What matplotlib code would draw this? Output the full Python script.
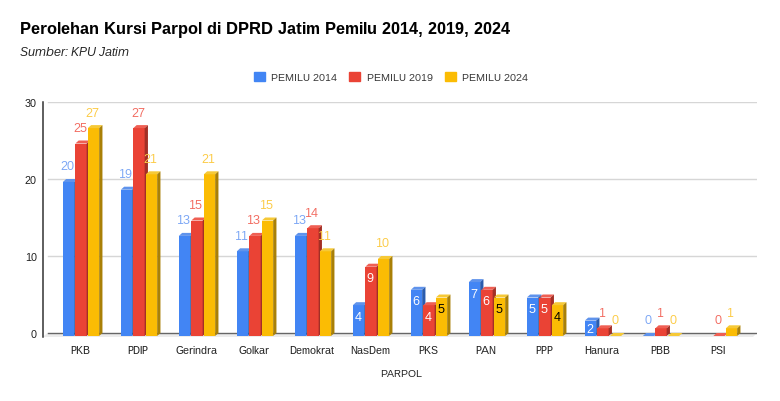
import matplotlib
matplotlib.use("Agg")
import matplotlib.pyplot as plt
from matplotlib.transforms import ScaledTranslation
import numpy as np

parpol = ["PKB", "PDIP", "Gerindra", "Golkar", "Demokrat", "NasDem", "PKS", "PAN", "PPP", "Hanura", "PBB", "PSI"]
pemilu_2014 = [20, 19, 13, 11, 13, 4, 6, 7, 5, 2, 0, None]
pemilu_2019 = [25, 27, 15, 13, 14, 9, 4, 6, 5, 1, 1, 0]
pemilu_2024 = [27, 21, 21, 15, 11, 10, 5, 5, 4, 0, 0, 1]
series_names = ["PEMILU 2014", "PEMILU 2019", "PEMILU 2024"]
y_ticks = [0, 10, 20, 30]

colors = ["#4285f4", "#ea4335", "#fbbc04"]
tops = ["#5f93ec", "#ef5f53", "#f6c937"]
sides = ["#2a5cae", "#a32f25", "#a98007"]
label_colors = ["#7ba6f5", "#f26b60", "#fccb45"]
inside_colors = ["white", "white", "black"]

W, H = 780, 402
plt.rcParams["font.family"] = ["Liberation Sans", "DejaVu Sans"]
plt.rcParams["text.hinting"] = "native"
plt.rcParams["text.hinting_factor"] = 1
fig = plt.figure(figsize=(W / 100, H / 100), dpi=100)

# axes box in pixels
left, right, top, bottom = 42.5, 757, 103, 337
ax = fig.add_axes([left / W, 1 - bottom / H, (right - left) / W, (bottom - top) / H])
px_x = 1 / 58  # one pixel in x data units
px_y = 1 / 7.7  # one pixel in y data units
ax.set_xlim((left - 81) * px_x, (right - 81) * px_x)
ax.set_ylim(0, (bottom - top) * px_y)

dx, dy = 3.3 * px_x, 3 * px_y
bw = 11.3 * px_x
step = 12.5 * px_x

for s in ax.spines.values():
    s.set_visible(False)

x0, x1 = ax.get_xlim()
# back wall grid, sits a bit higher than the bar fronts
for v in y_ticks[1:]:
    ax.plot([x0 + 5 * px_x, x1], [v + dy, v + dy], color="#d6d6d6", lw=1, zorder=1)
ax.plot([x0, x0], [-1 * px_y, 30 + dy], color="#333333", lw=1.1, zorder=2, clip_on=False)
ax.fill([x0, x1 - 4 * px_x, x1, x0 + 5 * px_x], [-1 * px_y, -1 * px_y, dy, dy], color="#ececec", lw=0, zorder=1, clip_on=False)
ax.plot([x0 + 5 * px_x, x1], [dy, dy], color="#666666", lw=1, zorder=2)

x = np.arange(len(parpol))
for k, vals in enumerate([pemilu_2014, pemilu_2019, pemilu_2024]):
    for i, v in enumerate(vals):
        if v is None:
            continue
        xc = x[i] + (k - 1) * step
        xl, xr = xc - bw / 2, xc + bw / 2
        z = 3 + i * 3 + k
        ax.bar(xc, v, width=bw, color=colors[k], linewidth=0, zorder=z)
        ax.fill([xl, xr, xr + dx, xl + dx], [v, v, v + dy, v + dy], color=tops[k], lw=0, zorder=z)
        ax.fill([xr, xr + dx, xr + dx, xr], [0, dy, v + dy, v], color=sides[k], lw=0, zorder=z)
        if 1 < v <= 9:
            ax.text(xc - 0.7 * px_x, max(v - 11 * px_y, v / 2), str(v), color=inside_colors[k], fontsize=8.3,
                    ha="center", va="center", zorder=60)
        else:
            ax.text(xc - 0.7 * px_x, v + 16 * px_y, str(v), color=label_colors[k], fontsize=8.3,
                    ha="center", va="center", zorder=60)

ax.set_xticks(x)
ax.set_xticklabels(parpol, fontsize=8, color="#222222")
ax.set_yticks([v + dy for v in y_ticks])
ax.set_yticklabels([str(v) for v in y_ticks], fontsize=8.2, color="#222222")
ax.tick_params(axis="both", length=0)
ax.tick_params(axis="x", pad=11.9)
ax.tick_params(axis="y", pad=4)
# same baseline for every party name, 1px left of the bar group
nudge = ScaledTranslation(-1 / 100, 0, fig.dpi_scale_trans)
for lab in ax.get_xticklabels():
    lab.set_va("baseline")
    lab.set_transform(lab.get_transform() + nudge)
ax.set_xlabel("PARPOL", fontsize=7.4, color="#222222", labelpad=10.5)
ax.xaxis.label.set_x((401 - left) / (right - left))

fig.text(20 / W, 1 - 30 / H, "Perolehan Kursi Parpol di DPRD Jatim Pemilu 2014, 2019, 2024",
         fontsize=11.9, fontweight="bold", color="black", va="center")
fig.text(20 / W, 1 - 53 / H, "Sumber: KPU Jatim", fontsize=8.5, style="italic", color="#222222", va="center")

handles = [plt.Rectangle((0, 0), 1, 1, color=c) for c in colors]
fig.legend(handles, series_names, loc="center", bbox_to_anchor=(391 / W, 1 - 78 / H), ncol=3, frameon=False,
           fontsize=7, handlelength=1.1, handleheight=1.1, handletextpad=0.65, columnspacing=1.3,
           labelcolor="#333333")

fig.savefig("out.png", dpi=100)
